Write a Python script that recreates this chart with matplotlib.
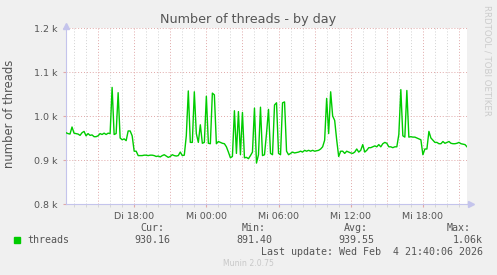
import matplotlib
matplotlib.use("Agg")
import matplotlib.pyplot as plt
from matplotlib.ticker import FixedLocator
from matplotlib.lines import Line2D
import numpy as np

# ---- data (10-minute samples, Tue 12:20 .. Wed 21:40) ----
start_hour = 12 + 20 / 60.0          # hours since Tue 00:00
step_hours = 10 / 60.0
threads = [
    962, 960, 959, 975, 961, 960, 959, 956, 962, 965, 955, 960, 956, 957, 953, 953, 955, 960, 958, 961,
    958, 961, 960, 1065, 958, 960, 1053, 950, 946, 948, 944, 966, 966, 955, 920, 920, 910, 910, 910, 911,
    911, 910, 911, 911, 910, 908, 909, 907, 910, 912, 909, 906, 908, 912, 910, 909, 910, 918, 910, 911,
    955, 1057, 940, 940, 1055, 960, 940, 980, 938, 940, 1045, 938, 937, 1052, 1048, 937, 942, 940, 938, 937,
    930, 918, 905, 908, 1012, 915, 1010, 912, 1008, 905, 906, 903, 910, 918, 1018, 893, 912, 1020, 910, 912,
    960, 1015, 915, 912, 1025, 1030, 915, 912, 1030, 1032, 920, 912, 915, 918, 916, 917, 918, 920, 918, 922,
    920, 922, 920, 922, 920, 921, 922, 925, 930, 945, 1040, 960, 1055, 1000, 990, 946, 908, 920, 920, 915,
    920, 918, 916, 915, 918, 925, 918, 922, 935, 918, 922, 928, 928, 930, 932, 930, 935, 930, 937, 940,
    938, 930, 930, 928, 930, 930, 958, 1060, 955, 952, 1058, 952, 953, 952, 952, 950, 948, 946, 912, 925,
    925, 965, 950, 945, 940, 940, 937, 937, 942, 938, 940, 942, 938, 937, 937, 938, 940, 937, 936, 935,
    930,
]
tick_hours = [18, 24, 30, 36, 42]
tick_labels = ["Di 18:00", "Mi 00:00", "Mi 06:00", "Mi 12:00", "Mi 18:00"]
y_ticks = [800, 900, 1000, 1100, 1200]
y_tick_labels = ["0.8 k", "0.9 k", "1.0 k", "1.1 k", "1.2 k"]
legend_name = "threads"
stat_names = ["Cur:", "Min:", "Avg:", "Max:"]
stat_values = ["930.16", "891.40", "939.55", "1.06k"]
title = "Number of threads - by day"
ylabel = "number of threads"
last_update = "Last update: Wed Feb  4 21:40:06 2026"
footer = "Munin 2.0.75"
watermark = "RRDTOOL / TOBI OETIKER"

# ---- layout ----
W, H = 497, 275
BG = "#f0f0f0"
LINE = "#00cc00"
TXT = "#555555"
REDGRID = "#e0a8a8"
GRAYGRID = "#d2d2d2"
AXISC = "#c4c4ec"

fig = plt.figure(figsize=(W / 100, H / 100), dpi=100, facecolor=BG)

def fx(x):
    return x / W

def fy(y):
    return 1 - y / H

L, R, T, B = 66, 467, 28, 204
ax = fig.add_axes([fx(L), fy(B), fx(R) - fx(L), fy(T) - fy(B)])
ax.set_facecolor("white")

x = start_hour + step_hours * np.arange(len(threads))
ax.set_xlim(start_hour, start_hour + step_hours * (len(threads) - 1))
ax.set_ylim(800, 1200)

# grid
hour_grid = np.arange(13, 46, 1)
for h in hour_grid:
    if h % 3 == 0:
        ax.axvline(h, color=REDGRID, lw=0.7, ls=(0, (1, 2)), zorder=1)
    else:
        ax.axvline(h, color=GRAYGRID, lw=0.7, ls=(0, (1, 2)), zorder=1)
for v in y_ticks[1:]:
    ax.axhline(v, color=REDGRID, lw=0.7, ls=(0, (1, 2)), zorder=1)

ax.plot(x, threads, color=LINE, lw=1.0, zorder=3)

# ticks
ax.xaxis.set_major_locator(FixedLocator(tick_hours))
ax.set_xticklabels(tick_labels)
ax.xaxis.set_minor_locator(FixedLocator(list(hour_grid)))
ax.tick_params(axis="x", which="major", length=2.5, color=REDGRID, labelsize=6.8,
               labelcolor=TXT, pad=3)
ax.tick_params(axis="x", which="minor", length=2, color=GRAYGRID)
ax.yaxis.set_major_locator(FixedLocator(y_ticks))
ax.set_yticklabels(y_tick_labels)
ax.tick_params(axis="y", which="major", length=2, color=REDGRID, labelsize=6.8,
               labelcolor=TXT, pad=4)

for s in ["top", "right"]:
    ax.spines[s].set_visible(False)
ax.spines["left"].set_color(AXISC)
ax.spines["bottom"].set_color(AXISC)
ax.spines["left"].set_linewidth(0.8)
ax.spines["bottom"].set_linewidth(0.8)

# arrows
fig.add_artist(Line2D([fx(L)], [fy(T - 2)], marker="^", markersize=4, color=AXISC,
                      transform=fig.transFigure))
fig.add_artist(Line2D([fx(R + 4)], [fy(B)], marker=">", markersize=4, color=AXISC,
                      transform=fig.transFigure))
fig.add_artist(Line2D([fx(L), fx(L)], [fy(T), fy(T - 3)], color=AXISC, lw=0.8,
                      transform=fig.transFigure))
fig.add_artist(Line2D([fx(R), fx(R + 4)], [fy(B), fy(B)], color=AXISC, lw=0.8,
                      transform=fig.transFigure))

# texts
fig.text(fx(248.5), fy(19), title, ha="center", va="center", fontsize=9.2, color=TXT)
fig.text(fx(10), fy(114), ylabel, ha="center", va="center", rotation=90, fontsize=8.4,
         color=TXT)
fig.text(fx(487), fy(5), watermark, ha="center", va="top", rotation=-90, fontsize=6.2,
         color="#cccccc")

mono = "DejaVu Sans Mono"
fs = 7.2
fig.patches.append(plt.Rectangle((fx(14), fy(243)), fx(6), fy(237) - fy(243),
                                 transform=fig.transFigure, color=LINE, figure=fig))
fig.text(fx(27), fy(240), legend_name, ha="left", va="center", family=mono, fontsize=fs,
         color=TXT)
stat_name_x = [152, 254, 356, 458.5]
stat_val_right = [170, 272, 374, 483]
for nm, cx in zip(stat_names, stat_name_x):
    fig.text(fx(cx), fy(228), nm, ha="center", va="center", family=mono, fontsize=fs,
             color=TXT)
for val, rx in zip(stat_values, stat_val_right):
    fig.text(fx(rx), fy(240), val, ha="right", va="center", family=mono, fontsize=fs,
             color=TXT)
fig.text(fx(483), fy(252), last_update, ha="right", va="center", family=mono, fontsize=fs,
         color=TXT)
fig.text(fx(248), fy(264), footer, ha="center", va="center", fontsize=5.6, color="#c8c8c8")

fig.savefig("out.png", dpi=100, facecolor=BG)
